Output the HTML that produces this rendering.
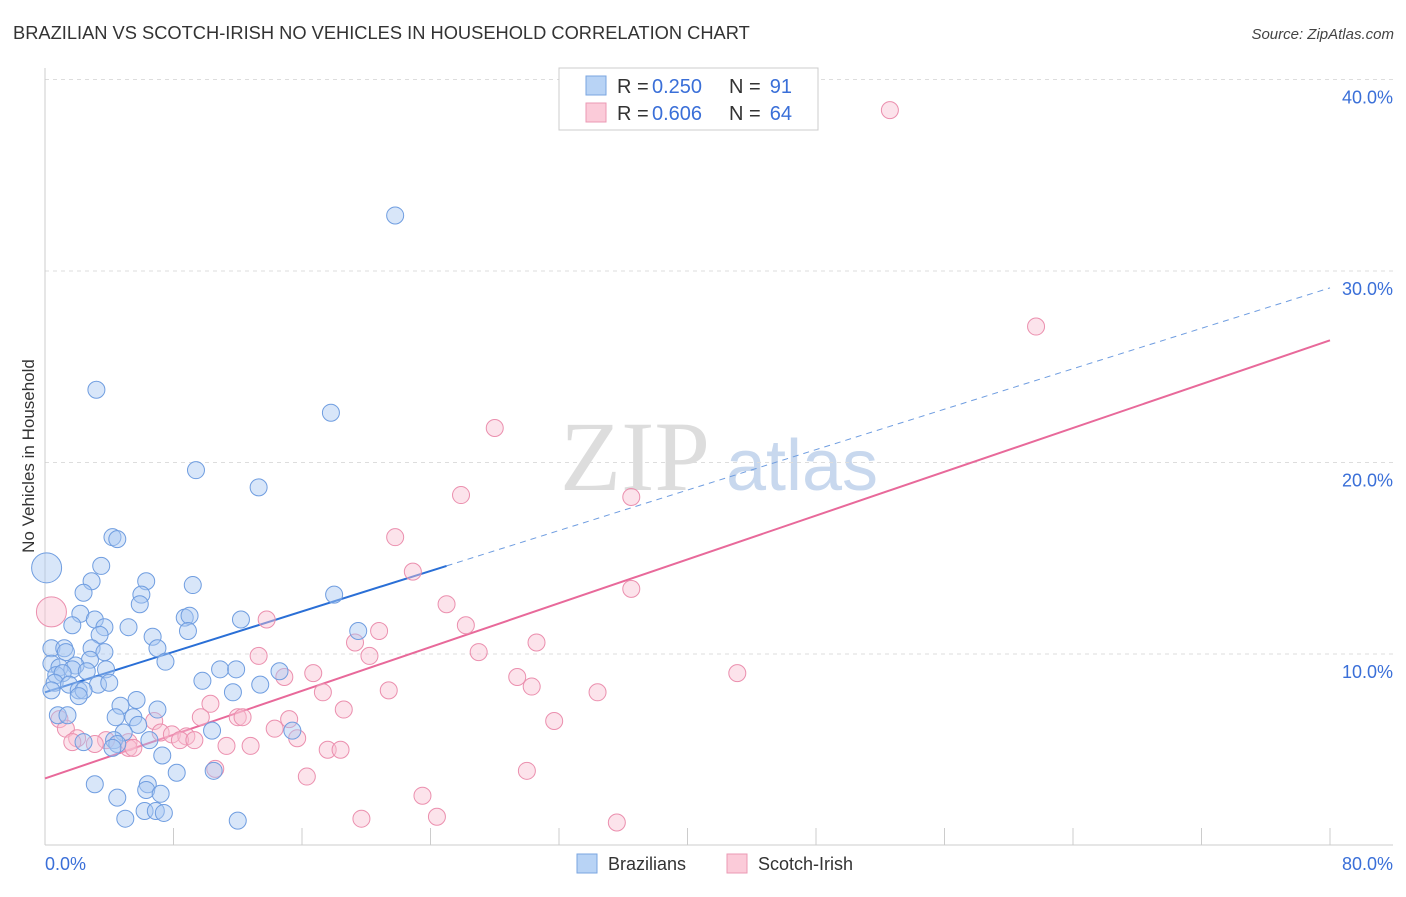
<!DOCTYPE html>
<html><head><meta charset="utf-8"><style>
body{margin:0;background:#fff;font-family:"Liberation Sans",sans-serif;}
</style></head><body>
<svg id="chart" width="1406" height="892" viewBox="0 0 1406 892" xmlns="http://www.w3.org/2000/svg" font-family="Liberation Sans, sans-serif">
<text x="13" y="39" font-size="18.3" fill="#333">BRAZILIAN VS SCOTCH-IRISH NO VEHICLES IN HOUSEHOLD CORRELATION CHART</text>
<text x="1394" y="39" font-size="15" fill="#444" font-style="italic" text-anchor="end">Source: ZipAtlas.com</text>
<g>
<text x="635" y="490" font-size="100" fill="#ddd" style="font-family:'Liberation Serif',serif" text-anchor="middle">ZIP</text>
<text x="802" y="490" font-size="72" fill="#c8d8ee" text-anchor="middle">atlas</text>
</g>
<g id="grid"></g>
<g id="axes"></g>
<g id="lines"></g>
<g id="points"></g>
<text transform="translate(34,456) rotate(-90)" font-size="17" fill="#333" text-anchor="middle">No Vehicles in Household</text>
<g>
<rect x="559" y="68" width="259" height="62" fill="#fff" stroke="#ccc"/>
<rect x="586" y="76" width="20" height="19" fill="#b8d3f5" stroke="#7aa6e0"/>
<rect x="586" y="103" width="20" height="19" fill="#fbcbd9" stroke="#eb9ab4"/>
<text x="617" y="93" font-size="20" fill="#333">R =</text>
<text x="652" y="93" font-size="20" fill="#3a6fd8">0.250</text>
<text x="729" y="93" font-size="20" fill="#333">N =</text>
<text x="792" y="93" font-size="20" fill="#3a6fd8" text-anchor="end">91</text>
<text x="617" y="120" font-size="20" fill="#333">R =</text>
<text x="652" y="120" font-size="20" fill="#3a6fd8">0.606</text>
<text x="729" y="120" font-size="20" fill="#333">N =</text>
<text x="792" y="120" font-size="20" fill="#3a6fd8" text-anchor="end">64</text>
</g>
<g>
<rect x="577" y="854" width="20" height="19" fill="#b8d3f5" stroke="#7aa6e0"/>
<text x="608" y="870" font-size="18" fill="#333">Brazilians</text>
<rect x="727" y="854" width="20" height="19" fill="#fbcbd9" stroke="#eb9ab4"/>
<text x="758" y="870" font-size="18" fill="#333">Scotch-Irish</text>
</g>
</svg>
<script>
const yTicks=[10,20,30,40];
const xTickVals=[0,8,16,24,32,40,48,56,64,72,80];
const blueX=[21.8,3.2,17.8,9.4,13.3,4.2,4.5,0.1,3.5,2.9,6.3,9.2,2.4,6.0,18.0,5.9,2.2,3.1,8.7,9.0,12.2,1.7,3.7,5.2,8.9,19.5,3.4,6.7,0.4,1.2,2.9,7.0,1.3,3.7,2.8,7.5,0.4,1.9,0.9,1.7,3.8,10.9,11.9,14.6,2.6,0.7,1.1,0.6,1.5,3.3,4.0,9.8,13.4,2.1,0.4,2.4,11.7,2.1,5.7,4.7,7.0,4.4,5.5,0.8,1.4,5.8,4.9,10.4,15.4,6.5,4.3,4.5,2.4,4.2,7.3,8.2,10.5,3.1,6.4,6.3,7.2,4.5,6.2,6.9,7.4,5.0,12.0];
const blueY=[32.9,23.8,22.6,19.6,18.7,16.1,16.0,14.5,14.6,13.8,13.8,13.6,13.2,13.1,13.1,12.6,12.1,11.8,11.9,12.0,11.8,11.5,11.4,11.4,11.2,11.2,11.0,10.9,10.3,10.3,10.3,10.3,10.1,10.1,9.7,9.6,9.5,9.4,9.3,9.2,9.2,9.2,9.2,9.1,9.1,8.9,9.0,8.5,8.4,8.4,8.5,8.6,8.4,8.1,8.1,8.1,8.0,7.8,7.6,7.3,7.1,6.7,6.7,6.8,6.8,6.3,5.9,6.0,6.0,5.5,5.5,5.3,5.4,5.1,4.7,3.8,3.9,3.2,3.2,2.9,2.7,2.5,1.8,1.8,1.7,1.4,1.3];
const pinkX=[52.6,61.7,28.0,25.9,36.5,21.8,22.9,0.4,36.5,25.0,13.8,26.2,20.8,19.3,30.6,27.0,20.2,13.3,16.7,14.9,43.1,29.4,30.3,17.3,21.4,34.4,18.6,10.3,6.8,9.7,12.0,12.3,15.2,31.7,0.9,1.3,14.3,7.2,7.9,8.8,15.7,2.0,8.4,9.3,3.8,5.2,1.7,3.1,11.3,12.8,5.2,5.5,17.6,18.4,10.6,30.0,16.3,23.5,24.4,19.7,35.6];
const pinkY=[38.4,27.1,21.8,18.3,18.2,16.1,14.3,12.2,13.4,12.6,11.8,11.5,11.2,10.6,10.6,10.1,9.9,9.9,9.0,8.8,9.0,8.8,8.3,8.0,8.1,8.0,7.1,7.4,6.5,6.7,6.7,6.7,6.6,6.5,6.6,6.1,6.1,5.9,5.8,5.7,5.6,5.6,5.5,5.5,5.5,5.4,5.4,5.3,5.2,5.2,5.1,5.1,5.0,5.0,4.0,3.9,3.6,2.6,1.5,1.4,1.2];
const blueFit=[8.0,0.264];
const pinkFit=[3.5,0.286];
const NS='http://www.w3.org/2000/svg';
const sx=v=>45+v/80*1285;
const sy=v=>845.5-v/10*191.5;
function mk(tag,attrs,parent){const e=document.createElementNS(NS,tag);for(const k in attrs)e.setAttribute(k,attrs[k]);parent.appendChild(e);return e;}
const grid=document.getElementById('grid'),axes=document.getElementById('axes'),lines=document.getElementById('lines'),pts=document.getElementById('points');
yTicks.forEach(t=>{
 const l=mk('line',{x1:45,x2:1393,y1:sy(t),y2:sy(t),stroke:'#ddd','stroke-dasharray':'4,4'},grid);
 
 
 const tx=mk('text',{x:1393,y:sy(t)+24,'font-size':18,fill:'#3a6fd8','text-anchor':'end'},axes);
 tx.textContent=t.toFixed(1)+'%';
 
 
});
const ax=mk('line',{x1:45,x2:45,y1:68,y2:845,stroke:'#ccc'},axes);


const bx=mk('line',{x1:45,x2:1393,y1:845,y2:845,stroke:'#ccc'},axes);


xTickVals.forEach(t=>{
 const l=mk('line',{x1:sx(t),x2:sx(t),y1:828,y2:845,stroke:'#ccc'},axes);
 
 
});
const xl0=mk('text',{x:45,y:870,'font-size':18,fill:'#3a6fd8'},axes);xl0.textContent='0.0%';


const xl1=mk('text',{x:1393,y:870,'font-size':18,fill:'#3a6fd8','text-anchor':'end'},axes);xl1.textContent='80.0%';


function drawPts(X,Y,fill,stroke,name){
 X.forEach((x,i)=>{
  const big=(x<0.5&&(Y[i]>12));
  const c=mk('circle',{cx:sx(x),cy:sy(Y[i]),r:big?15:8.5,fill:fill,'fill-opacity':0.45,stroke:stroke,'stroke-width':1},pts);
  
  
 });
}
drawPts(pinkX,pinkY,'#f9c0d2','#eb8fae','scotch-irish-point');
drawPts(blueX,blueY,'#a9c8f2','#6f9de0','brazilian-point');
const b1=mk('line',{x1:sx(0),y1:sy(blueFit[0]),x2:sx(25),y2:sy(blueFit[0]+blueFit[1]*25),stroke:'#2a6fd6','stroke-width':2},lines);


const b2=mk('line',{x1:sx(25),y1:sy(blueFit[0]+blueFit[1]*25),x2:sx(80),y2:sy(blueFit[0]+blueFit[1]*80),stroke:'#6f9de0','stroke-width':1,'stroke-dasharray':'6,5'},lines);


const p1=mk('line',{x1:sx(0),y1:sy(pinkFit[0]),x2:sx(80),y2:sy(pinkFit[0]+pinkFit[1]*80),stroke:'#e8699a','stroke-width':2},lines);


</script>
</body></html>
